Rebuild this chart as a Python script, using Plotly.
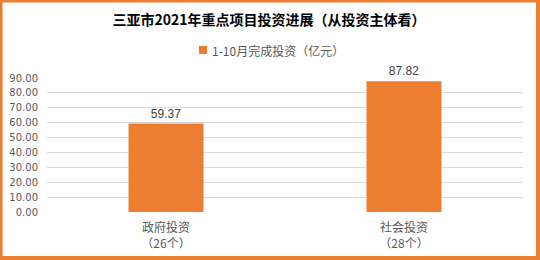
import plotly.graph_objects as go

categories = ["政府投资<br>（26个）", "社会投资<br>（28个）"]
values = [59.37, 87.82]
value_labels = ["59.37", "87.82"]
series_name = "1-10月完成投资（亿元）"
title_text = "三亚市2021年重点项目投资进展（从投资主体看）"
y_ticks = [0, 10, 20, 30, 40, 50, 60, 70, 80, 90]
y_tick_labels = ["%.2f" % v for v in y_ticks]

W, H = 540, 260
L, R, T, B = 47, 17, 78, 48
pw = W - L - R
ph = H - T - B

def px(x):
    return (x - L) / pw

def py(y):
    return (H - B - y) / ph

orange = "#ED7D31"
cjk = "Noto Sans CJK SC, sans-serif"

fig = go.Figure()
fig.add_trace(go.Bar(
    x=categories, y=values, name=series_name,
    marker=dict(color=orange, line=dict(width=0)),
    text=value_labels, textposition="outside",
    textfont=dict(size=12, color="#404040", family="Liberation Sans, Arial, sans-serif"),
    cliponaxis=False, showlegend=False,
))

fig.update_layout(
    width=W, height=H,
    margin=dict(l=L, r=R, t=T, b=B, pad=0, autoexpand=False),
    paper_bgcolor=orange,
    plot_bgcolor="rgba(0,0,0,0)",
    font=dict(family=cjk, color="#595959", size=11),
    bargap=0.685,
    title=dict(text="<b>" + title_text + "</b>", xref="container", x=269 / W, xanchor="center",
               yref="container", y=1 - 20 / H, yanchor="middle",
               font=dict(size=14, color="#000000", family=cjk)),
    showlegend=False,
    xaxis=dict(showgrid=False, showline=False, ticks="", zeroline=False,
               ticklabelstandoff=7, automargin=False,
               tickfont=dict(size=12, color="#595959", family=cjk)),
    yaxis=dict(range=[0, 90], tickvals=y_ticks, ticktext=y_tick_labels,
               showgrid=True, gridcolor="#D9D9D9", gridwidth=1, automargin=False,
               zeroline=False, showline=False, ticks="outside", ticklen=6,
               tickcolor="rgba(0,0,0,0)",
               tickfont=dict(size=10, color="#595959", family="DejaVu Sans, Verdana, sans-serif")),
    shapes=[
        dict(type="rect", xref="paper", yref="paper",
             x0=px(2.5), x1=px(536), y0=py(256), y1=py(2.5),
             fillcolor="white", line=dict(width=0), layer="below"),
        dict(type="rect", xref="paper", yref="paper",
             x0=px(199), x1=px(207), y0=py(54), y1=py(46),
             fillcolor=orange, line=dict(width=0)),
    ],
    annotations=[
        dict(text=series_name, xref="paper", yref="paper", x=px(210), y=py(50),
             xanchor="left", yanchor="middle", showarrow=False,
             font=dict(size=12, color="#595959", family=cjk)),
    ],
)

fig.write_html("out.html")
